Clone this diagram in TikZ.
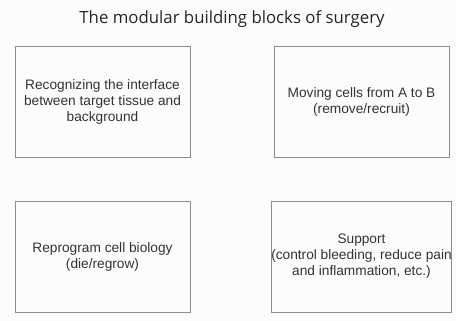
\documentclass[tikz,border=0pt]{standalone}
\usepackage{fontspec}
\setmainfont{Liberation Sans}
\newfontfamily\titlefont{Open Sans}
\usetikzlibrary{positioning}
\definecolor{bgwhite}{HTML}{FCFCFC}
\definecolor{boxline}{HTML}{8C8C8C}
\definecolor{boxtext}{HTML}{333333}

\begin{document}
\begin{tikzpicture}[
  x=1pt, y=-1pt,
  block/.style={draw=boxline, line width=0.9pt, minimum width=175pt, minimum height=111pt,
    inner sep=0pt, align=center, text=boxtext, font=\fontsize{13.7}{16}\selectfont},
  heading/.style={text=black!85, font=\titlefont\fontsize{16.8}{20}\selectfont}]
\fill[bgwhite] (0,0) rectangle (456,321);
\useasboundingbox (0,0) rectangle (456,321);
\node[heading] (title) at (232,19) {The modular building blocks of surgery};
\node[block] (recog) at (102.5,101.5) {Recognizing the interface\\between target tissue and\\background};
\node[block] (moving) at (361.5,101.5) {Moving cells from A to B\\(remove/recruit)};
\node[block] (reprog) at (102.5,256.5) {Reprogram cell biology\\(die/regrow)};
\node[block] (support) at (361.5,256.5) {Support\\(control bleeding, reduce pain\\and inflammation, etc.)};
\end{tikzpicture}
\end{document}
